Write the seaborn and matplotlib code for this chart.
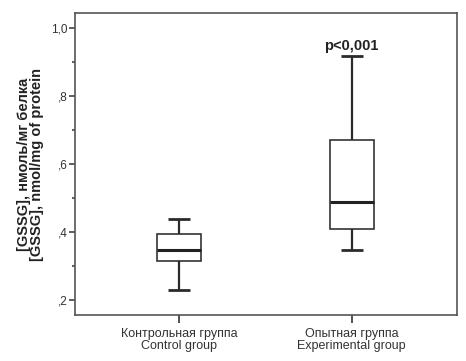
import pandas as pd
import matplotlib
matplotlib.use("Agg")
import matplotlib.pyplot as plt
import seaborn as sns
from matplotlib.ticker import MultipleLocator, FuncFormatter

# Box summary values (whisker low, Q1, median, Q3, whisker high)
groups = ["Контрольная группа\nControl group", "Опытная группа\nExperimental group"]
control_vals = [0.231, 0.315, 0.349, 0.395, 0.439]
experimental_vals = [0.349, 0.409, 0.489, 0.672, 0.919]
p_label = "p<0,001"

df = pd.DataFrame({
    "group": [groups[0]] * len(control_vals) + [groups[1]] * len(experimental_vals),
    "value": control_vals + experimental_vals,
})

sns.set_style("ticks")
plt.rcParams["font.family"] = ["Liberation Sans", "DejaVu Sans"]

edge = "#333333"
fig = plt.figure(figsize=(4.66, 3.61), dpi=100)
ax = fig.add_axes([0.160, 0.127, 0.820, 0.837])

sns.boxplot(data=df, x="group", y="value", ax=ax, order=groups,
            color="white", linecolor=edge, linewidth=1.2, width=0.255,
            whis=(0, 100), showfliers=False,
            whiskerprops={"linewidth": 1.6, "color": "#2a2a2a"},
            capprops={"linewidth": 2.0, "color": "#2a2a2a",
                      "solid_capstyle": "butt"},
            medianprops={"linewidth": 2.2, "color": "#222222",
                         "solid_capstyle": "butt"})

ax.set_xlim(-0.606, 1.608)
ax.set_ylim(0.156, 1.045)

# p-value label above experimental group
ax.text(1, 0.948, p_label, ha="center", va="center", fontsize=10.5,
        fontweight="bold", color="#222222")

ax.yaxis.set_major_locator(MultipleLocator(0.2))
ax.yaxis.set_minor_locator(MultipleLocator(0.1))
ax.yaxis.set_major_formatter(FuncFormatter(
    lambda v, p: f"{v:.1f}".replace(".", ",").lstrip("0")))
ax.tick_params(axis="y", which="major", length=4, width=1.1, color=edge,
               labelsize=8.5, labelcolor="#333333", pad=1)
ax.tick_params(axis="y", which="minor", length=2, width=1.1, color=edge)
ax.tick_params(axis="x", length=6, width=1.2, color=edge, labelsize=9,
               labelcolor="#333333", pad=3)
for lab in ax.get_xticklabels():
    lab.set_linespacing(1.0)

for side in ["top", "right", "left", "bottom"]:
    ax.spines[side].set_visible(True)
    ax.spines[side].set_color("#555555")
    ax.spines[side].set_linewidth(1.2)

ax.set_xlabel("")
ax.set_ylabel("[GSSG], нмоль/мг белка\n[GSSG], nmol/mg of protein",
              fontsize=10.5, fontweight="bold", color="#222222",
              linespacing=0.95, labelpad=5)

fig.savefig("out.png", dpi=100, facecolor="white")
